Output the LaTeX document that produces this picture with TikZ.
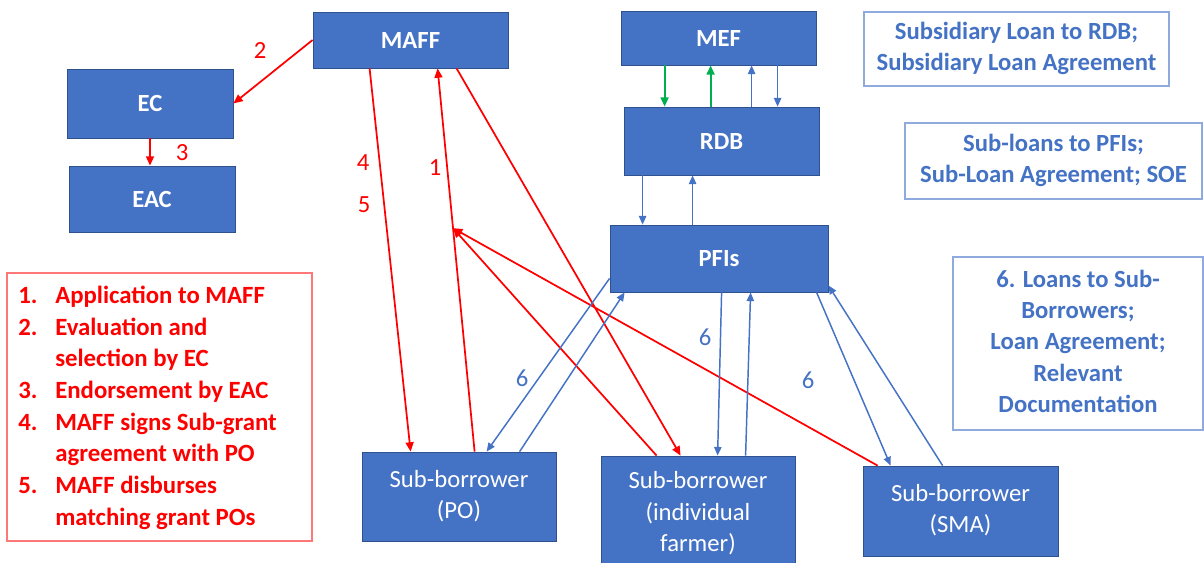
\documentclass[tikz,border=0pt]{standalone}
\usepackage{fontspec}
\setmainfont{Carlito}
\usetikzlibrary{arrows.meta,calc}
\definecolor{boxblue}{RGB}{68,114,196}
\definecolor{boxedge}{RGB}{47,82,143}
\definecolor{lineblue}{RGB}{68,114,196}
\definecolor{txtblue}{RGB}{68,114,196}
\definecolor{noteedge}{RGB}{143,170,220}
\definecolor{listedge}{RGB}{255,120,120}
\definecolor{flowgreen}{RGB}{0,176,80}
\newcommand{\mlines}[1]{\begin{tabular}{@{}c@{}}#1\end{tabular}}
\tikzset{
  blk/.style={draw=boxedge, line width=0.6pt, fill=boxblue, text=white, inner sep=0pt,
    font=\fontsize{18.5}{23.5}\selectfont},
  blkb/.style={blk, font=\fontsize{18.5}{23.5}\selectfont\bfseries},
  note/.style={draw=noteedge, line width=0.8pt, inner sep=0pt, text=txtblue,
    font=\fontsize{18.5}{23.5}\selectfont\bfseries},
  legendbox/.style={draw=listedge, line width=0.8pt, inner sep=0pt},
  sz/.style 2 args={minimum width=#1, minimum height=#2},
  redarr/.style={draw=red, line width=1.3pt, -{Triangle[length=7pt,width=6pt]}},
  bluearr/.style={draw=lineblue, line width=1.1pt, -{Triangle[length=6.5pt,width=5.5pt]}},
  greenarr/.style={draw=flowgreen, line width=1.5pt, -{Triangle[length=7pt,width=6pt]}},
  redlbl/.style={text=red, font=\fontsize{18.5}{22}\selectfont, inner sep=0pt},
  bluelbl/.style={text=lineblue, font=\fontsize{18.5}{22}\selectfont, inner sep=0pt},
}
\begin{document}
\begin{tikzpicture}[x=0.75pt,y=-0.75pt]
\fill[white] (0,0) rectangle (1204,562);
\useasboundingbox (0,0) rectangle (1204,562);

% boxes
\node[blkb, sz={146.25pt}{42pt}] (maff) at (410.5,40) {MAFF};
\node[blkb, sz={124.5pt}{51.75pt}] (ec) at (150,103.5) {EC};
\node[blkb, sz={124.5pt}{49.5pt}] (eac) at (152,199) {EAC};
\node[blkb, sz={146.25pt}{40.5pt}] (mef) at (718.5,38) {MEF};
\node[blkb, sz={146.25pt}{51pt}] (rdb) at (721.5,141) {RDB};
\node[blkb, sz={163.5pt}{50.25pt}] (pfis) at (719,258.5) {PFIs};
\node[blk, sz={145.5pt}{66.75pt}] (po) at (459,496.5) {\mlines{Sub-borrower\\(PO)}};
\node[blk, sz={145.5pt}{87pt}] (farmer) at (698,514) {\mlines{Sub-borrower\\(individual\\farmer)}};
\node[blk, sz={146.25pt}{67.5pt}] (sma) at (960.5,511) {\mlines{Sub-borrower\\(SMA)}};

% note boxes
\node[note, sz={228.75pt}{55.5pt}] (n1) at (1016.5,49) {\mlines{Subsidiary Loan to RDB;\\Subsidiary Loan Agreement}};
\node[note, sz={222.75pt}{57pt}] (n2) at (1053.5,161) {\mlines{Sub-loans to PFIs;\\Sub-Loan Agreement; SOE}};
\node[note, sz={187.5pt}{129.75pt}] (n3) at (1078,343.5) {\mlines{6. Loans to Sub-\\Borrowers;\\Loan Agreement;\\Relevant\\Documentation}};

% legend
\node[legendbox, sz={228.75pt}{201pt}] (legend) at (159.5,407) {};
\node[anchor=west, inner sep=0pt, text=red, font=\fontsize{18.6}{23.8}\selectfont\bfseries] (legendtxt) at (18,408)
{\begin{tabular}{@{}p{27.75pt}@{}l@{}}
1. & Application to MAFF\\
2. & Evaluation and\\
   & selection by EC\\
3. & Endorsement by EAC\\
4. & MAFF signs Sub-grant\\
   & agreement with PO\\
5. & MAFF disburses\\
   & matching grant POs
\end{tabular}};

% red flows
\draw[redarr] (maff.west) -- (ec.east);
\draw[redarr] (ec.south) -- (ec.south |- eac.north);
\draw[redarr] ($(maff.south west)+(57,0)$) -- ($(po.north west)+(49,0)$);
\coordinate (p1s) at ($(po.north west)+(113,0)$);
\coordinate (p1e) at ($(maff.south west)+(125,0)$);
\coordinate (meet) at ($(p1s)!0.583!(p1e)$);
\draw[redarr] (p1s) -- (p1e);
\draw[redarr] ($(maff.south west)+(144,0)$) -- ($(farmer.north west)+(80,0)$);
\draw[redarr] ($(farmer.north west)+(56,0)$) -- (meet);
\draw[redarr] ($(sma.north west)+(15,0)$) -- (meet);

% MEF / RDB
\draw[greenarr] ($(mef.south west)+(44,0)$) -- ($(rdb.north west)+(41,0)$);
\draw[greenarr] ($(rdb.north west)+(87,0)$) -- ($(mef.south west)+(90,0)$);
\draw[bluearr] ($(rdb.north west)+(128,0)$) -- ($(mef.south west)+(131,0)$);
\draw[bluearr] ($(mef.south west)+(157,0)$) -- ($(rdb.north west)+(154,0)$);
% RDB / PFIs
\draw[bluearr] ($(rdb.south west)+(19,0)$) -- ($(pfis.north west)+(33,0)$);
\draw[bluearr] ($(pfis.north west)+(83,0)$) -- ($(rdb.south west)+(69,0)$);
% PFIs / sub-borrowers
\draw[bluearr] ($(pfis.south west)+(0,-14)$) -- ($(po.north west)+(125,0)$);
\draw[bluearr] ($(po.north west)+(158,0)$) -- ($(pfis.south west)+(15,0)$);
\draw[bluearr] ($(pfis.south west)+(112,0)$) -- ($(farmer.north west)+(117,0)$);
\draw[bluearr] ($(farmer.north west)+(145,0)$) -- ($(pfis.south west)+(141,0)$);
\draw[bluearr] ($(pfis.south west)+(207,0)$) -- ($(sma.north west)+(28,0)$);
\draw[bluearr] ($(sma.north west)+(80,0)$) -- ($(pfis.south east)+(0,-7)$);

% labels
\node[redlbl] (l2) at (260,50) {2};
\node[redlbl] (l3) at (182,153) {3};
\node[redlbl] (l4) at (363,163) {4};
\node[redlbl] (l5) at (364,205) {5};
\node[redlbl] (l1) at (435,168) {1};
\node[bluelbl] (s1) at (522,378) {6};
\node[bluelbl] (s2) at (705,337) {6};
\node[bluelbl] (s3) at (808,380) {6};
\end{tikzpicture}
\end{document}
